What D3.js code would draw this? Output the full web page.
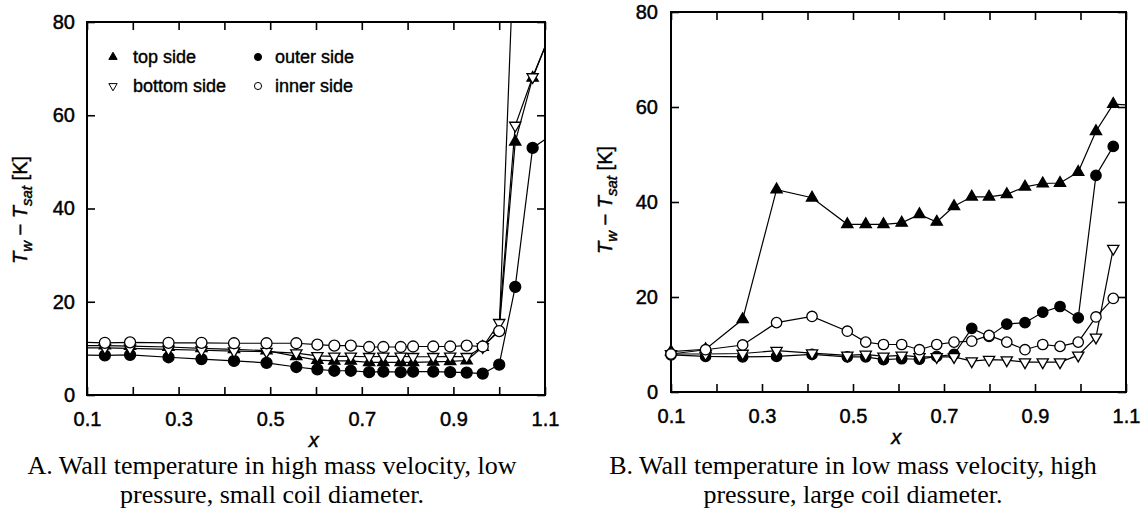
<!DOCTYPE html>
<meta charset="utf-8">
<style>
body { margin: 0; background: #fff; }
svg text { fill: #000; }
.lbl { font-family: "Liberation Sans", Arial, sans-serif; font-size: 20px; stroke: #000; stroke-width: 0.45px; }
.cap { font-family: "Liberation Serif", "Times New Roman", serif; font-size: 26px; }
.leg { font-family: "Liberation Sans", Arial, sans-serif; font-size: 18px; stroke: #000; stroke-width: 0.4px; }
</style>
<svg width="1148" height="513"></svg>
<script src="https://cdnjs.cloudflare.com/ajax/libs/d3/7.8.5/d3.min.js"></script>
<script>

// ---- panel A : high mass velocity, low pressure, small coil ----
var xA      = [0.08, 0.139, 0.194, 0.278, 0.350, 0.421, 0.492, 0.557, 0.603, 0.640, 0.676, 0.716, 0.747, 0.785, 0.812, 0.856, 0.893, 0.929, 0.964, 1.000, 1.035, 1.073, 1.13];
var topA    = [10.6, 10.6, 10.5, 10.3, 10.0, 9.8, 9.5, 8.3, 7.5, 7.3, 7.3, 7.0, 7.0, 7.0, 7.0, 7.1, 7.2, 7.4, 10.3, 14.0, 54.3, 68.0, 82.0];
var bottomA = [10.1, 10.1, 10.0, 9.8, 9.6, 9.4, 9.3, 9.0, 8.4, 8.3, 8.3, 8.2, 8.3, 8.3, 8.2, 8.2, 8.3, 8.2, 10.3, 15.5, 57.8, 68.2, 82.0];
var outerA  = [8.6, 8.5, 8.6, 8.1, 7.7, 7.3, 6.9, 6.0, 5.5, 5.2, 5.2, 4.9, 5.0, 4.9, 5.0, 5.0, 4.9, 4.8, 4.6, 6.5, 23.2, 53.0, 56.8];
var innerA  = [11.3, 11.2, 11.3, 11.2, 11.2, 11.1, 11.1, 11.1, 10.8, 10.6, 10.6, 10.3, 10.3, 10.3, 10.4, 10.4, 10.4, 10.6, 10.4, 13.7, 103, null, null];

// ---- panel B : low mass velocity, high pressure, large coil ----
var xB      = [0.1, 0.176, 0.2575, 0.332, 0.41, 0.4875, 0.528, 0.567, 0.607, 0.646, 0.684, 0.722, 0.761, 0.799, 0.838, 0.878, 0.917, 0.955, 0.995, 1.034, 1.072, 1.13];
var topB    = [8.5, 9.0, 15.3, 42.6, 40.9, 35.3, 35.3, 35.3, 35.6, 37.4, 35.8, 39.1, 41.1, 41.1, 41.6, 43.2, 43.9, 44.0, 46.3, 54.9, 60.6, 60.3];
var outerB  = [7.8, 7.5, 7.4, 7.5, 7.9, 7.4, 7.4, 6.8, 7.0, 6.9, 7.5, 7.9, 13.4, 11.7, 14.3, 14.6, 16.8, 18.0, 15.6, 45.6, 51.7, null];
var bottomB = [8.0, 8.0, 8.1, 8.7, 8.2, 7.7, 7.9, 7.5, 7.7, 7.4, 7.4, 7.4, 6.5, 6.8, 6.7, 6.3, 6.3, 6.3, 7.7, 11.5, 30.2, null];
var innerB  = [8.0, 8.9, 9.9, 14.6, 15.9, 12.8, 10.5, 10.0, 10.0, 8.9, 10.0, 10.5, 10.7, 11.9, 10.5, 8.9, 10.0, 9.6, 10.5, 15.8, 19.7, null];

var xTicks = [0.1, 0.2, 0.3, 0.4, 0.5, 0.6, 0.7, 0.8, 0.9, 1.0, 1.1];
var xLabels = [0.1, 0.3, 0.5, 0.7, 0.9, 1.1];
var yTicks = [0, 20, 40, 60, 80];
var legendNames = ["top side", "bottom side", "outer side", "inner side"];

var svg = d3.select("svg");
svg.append("rect").attr("width", 1148).attr("height", 513).attr("fill", "#fff");

var markers = {
  top:    { shape: d3.symbolTriangle, rot: 0,   fill: "#000" },
  bottom: { shape: d3.symbolTriangle, rot: 180, fill: "#fff" },
  outer:  { shape: d3.symbolCircle,   rot: 0,   fill: "#000" },
  inner:  { shape: d3.symbolCircle,   rot: 0,   fill: "#fff" }
};

function drawPanel(p) {
  var x = d3.scaleLinear().domain([0.1, 1.1]).range([p.left, p.right]);
  var y = d3.scaleLinear().domain([0, 80]).range([p.bottom, p.top]);
  var g = svg.append("g");

  var clipId = "clip" + p.id;
  svg.append("clipPath").attr("id", clipId)
    .append("rect")
    .attr("x", p.left).attr("y", p.top)
    .attr("width", p.right - p.left).attr("height", p.bottom - p.top);

  // ticks inward on all four sides
  var fmt = function(d) { return xLabels.some(function(v) { return Math.abs(v - d) < 1e-6; }) ? d3.format(".1f")(d) : ""; };
  var ax = g.append("g").attr("transform", "translate(0," + p.bottom + ")")
    .call(d3.axisBottom(x).tickValues(xTicks).tickFormat(fmt).tickSizeInner(-8).tickSizeOuter(0).tickPadding(17));
  var axT = g.append("g").attr("transform", "translate(0," + p.top + ")")
    .call(d3.axisTop(x).tickValues(xTicks).tickFormat("").tickSizeInner(-8).tickSizeOuter(0));
  var ay = g.append("g").attr("transform", "translate(" + p.left + ",0)")
    .call(d3.axisLeft(y).tickValues(yTicks).tickFormat(d3.format("d")).tickSizeInner(-8).tickSizeOuter(0).tickPadding(p.ypad));
  var ayR = g.append("g").attr("transform", "translate(" + p.right + ",0)")
    .call(d3.axisRight(y).tickValues(yTicks).tickFormat("").tickSizeInner(-8).tickSizeOuter(0));
  [ax, axT, ay, ayR].forEach(function(a) {
    a.select(".domain").remove();
    a.selectAll("line").attr("stroke", "#000").attr("stroke-width", 1.6);
    a.selectAll("text").attr("class", "lbl").attr("font-family", null).attr("font-size", null).attr("fill", "#000");
  });

  g.append("rect")
    .attr("x", p.left).attr("y", p.top)
    .attr("width", p.right - p.left).attr("height", p.bottom - p.top)
    .attr("fill", "none").attr("stroke", "#000").attr("stroke-width", 2);

  var line = d3.line()
    .defined(function(d) { return d.v != null; })
    .x(function(d) { return x(d.x); })
    .y(function(d) { return y(d.v); });

  p.series.forEach(function(s) {
    var pts = p.xs.map(function(xv, i) { return { x: xv, v: s.values[i] }; });
    g.append("path")
      .datum(pts)
      .attr("clip-path", "url(#" + clipId + ")")
      .attr("d", line)
      .attr("fill", "none").attr("stroke", "#000").attr("stroke-width", 1.2);
  });

  p.series.forEach(function(s) {
    var m = markers[s.key];
    var pts = p.xs.map(function(xv, i) { return { x: xv, v: s.values[i] }; })
      .filter(function(d) { return d.v != null && d.x >= 0.1 && d.x <= 1.1 && d.v <= 80; });
    g.selectAll(null)
      .data(pts)
      .enter().append("path")
      .attr("d", d3.symbol().type(m.shape).size(m.shape === d3.symbolCircle ? p.csize : p.tsize))
      .attr("transform", function(d) { return "translate(" + x(d.x) + "," + y(d.v) + ") rotate(" + m.rot + ")"; })
      .attr("fill", m.fill).attr("stroke", "#000").attr("stroke-width", 1.3);
  });

  // axis titles
  var yt = g.append("text")
    .attr("class", "lbl")
    .attr("font-size", "21px")
    .attr("transform", "translate(" + p.ytx + "," + p.yty + ") rotate(-90)")
    .attr("text-anchor", "middle");
  yt.append("tspan").attr("font-style", "italic").text("T");
  yt.append("tspan").attr("font-style", "italic").attr("font-size", "15px").attr("dy", 5).text("w");
  yt.append("tspan").attr("dy", -5).text(" \u2212 ");
  yt.append("tspan").attr("font-style", "italic").text("T");
  yt.append("tspan").attr("font-style", "italic").attr("font-size", "15px").attr("dy", 5).text("sat");
  yt.append("tspan").attr("dy", -5).text(" [K]");

  g.append("text")
    .attr("class", "lbl")
    .attr("x", x(0.595)).attr("y", p.bottom + 52)
    .attr("text-anchor", "middle")
    .attr("font-style", "italic")
    .attr("font-size", "22px")
    .text("x");

  p.caption.forEach(function(t, i) {
    g.append("text")
      .attr("class", "cap")
      .attr("x", p.capx).attr("y", 474 + i * 29)
      .attr("text-anchor", "middle")
      .text(t);
  });
  return { x: x, y: y, g: g };
}

var pa = drawPanel({
  id: "A", left: 87, right: 545, top: 22, bottom: 395, ypad: 12,
  xs: xA, tsize: 55, csize: 95, ytx: 27, yty: 210, capx: 272,
  series: [
    { key: "top", values: topA },
    { key: "outer", values: outerA },
    { key: "bottom", values: bottomA },
    { key: "inner", values: innerA }
  ],
  caption: ["A. Wall temperature in high mass velocity, low", "pressure, small coil diameter."]
});

drawPanel({
  id: "B", left: 671, right: 1126, top: 12, bottom: 392, ypad: 13,
  xs: xB, tsize: 55, csize: 85, ytx: 612, yty: 200, capx: 853,
  series: [
    { key: "top", values: topB },
    { key: "outer", values: outerB },
    { key: "bottom", values: bottomB },
    { key: "inner", values: innerB }
  ],
  caption: ["B. Wall temperature in low mass velocity, high", "pressure, large coil diameter."]
});

// legend inside panel A
var legKeys = ["top", "bottom", "outer", "inner"];
var leg = pa.g.append("g");
legKeys.forEach(function(k, i) {
  var m = markers[k];
  var lx = i < 2 ? 113 : 258, ly = i % 2 === 0 ? 57 : 86;
  leg.append("path")
    .attr("d", d3.symbol().type(m.shape).size(m.shape === d3.symbolCircle ? 40 : 30))
    .attr("transform", "translate(" + lx + "," + ly + ") rotate(" + m.rot + ")")
    .attr("fill", m.fill).attr("stroke", "#000").attr("stroke-width", 1);
  leg.append("text")
    .attr("class", "leg")
    .attr("x", lx + (i < 2 ? 20 : 17)).attr("y", ly + 6)
    .text(legendNames[i]);
});

</script>
